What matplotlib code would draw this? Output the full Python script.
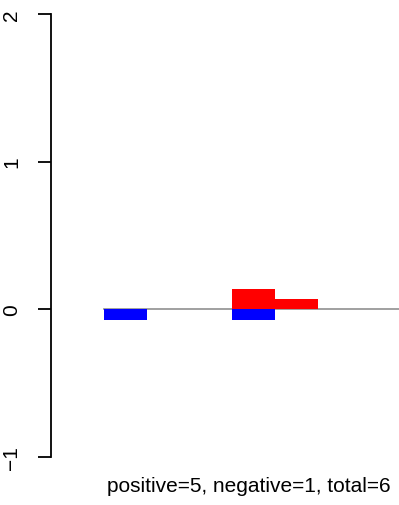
import matplotlib
matplotlib.use("Agg")
import matplotlib.pyplot as plt

plt.rcParams['font.family'] = ['Liberation Sans', 'DejaVu Sans']

# data
blue_pos = [0, 3]
blue_vals = [-0.07, -0.07]
red_pos = [3, 4]
red_vals = [0.135, 0.068]
yticks = [-1, 0, 1, 2]
caption = "positive=5, negative=1, total=6"

W, H = 399, 506
fig = plt.figure(figsize=(W / 100, H / 100), dpi=100)
ax = fig.add_axes([51 / W, 1 - 458 / H, (W - 51) / W, (458 - 15) / H])

unit = 42.8
x0 = -(104 - 51) / unit
x1 = (W - 104) / unit
ax.set_xlim(x0, x1)
ax.set_ylim(-1, 2)

ax.plot([0, x1], [0, 0], color="#999999", lw=1.3, zorder=1)
ax.bar(blue_pos, blue_vals, width=1, align="edge", color="blue", linewidth=0, zorder=2)
ax.bar(red_pos, red_vals, width=1, align="edge", color="red", linewidth=0, zorder=2)

for s in ["top", "right", "bottom"]:
    ax.spines[s].set_visible(False)
ax.spines["left"].set_linewidth(1.3)
ax.set_xticks([])
ax.set_yticks(yticks)
ax.set_yticklabels([str(t).replace("-", "\u2212") for t in yticks], rotation=90,
                   va="center", fontsize=15)
ax.tick_params(axis="y", length=9.4, width=1.3, pad=12)

fig.text(249 / W, 1 - 487 / H, caption, ha="center", va="center", fontsize=15)

fig.savefig("out.png", dpi=100)
